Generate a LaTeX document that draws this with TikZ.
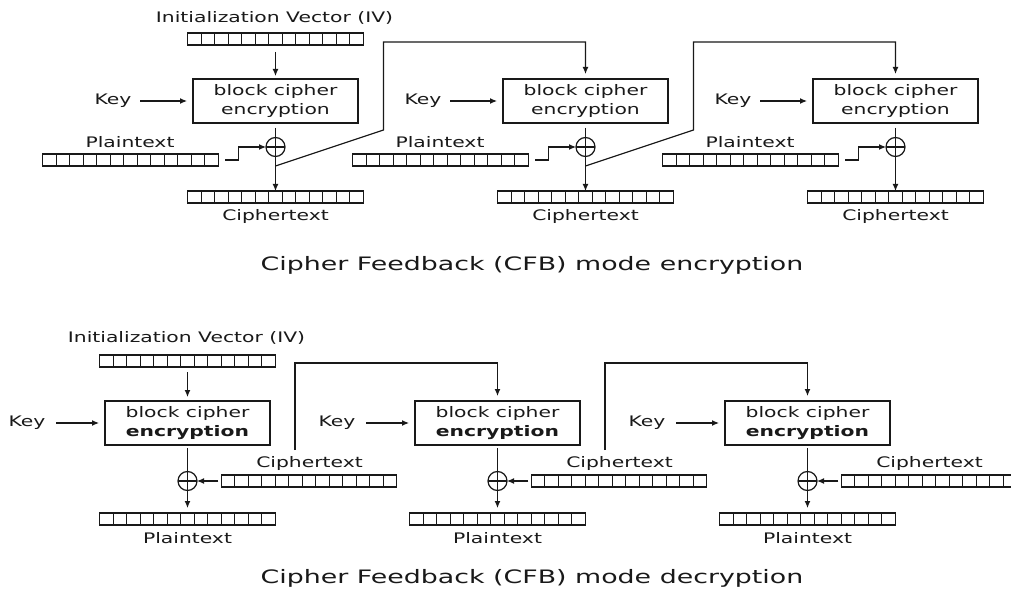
\documentclass[tikz,border=0pt]{standalone}
\usepackage{fontspec}
\setmainfont{DejaVu Sans}[FakeStretch=1.4]
\newfontfamily\titlefont{DejaVu Sans}[FakeStretch=1.45]
\usetikzlibrary{arrows.meta,calc}
\newcommand\regcells[1]{\foreach \i in {1,...,12}{\draw ([xshift=\i*13.5pt]#1.north west) -- ([xshift=\i*13.5pt]#1.south west);}}
\begin{document}
\begin{tikzpicture}[x=1pt,y=-1pt, line width=1.2pt, draw=black!90,
  lab/.style={font=\fontsize{14.5}{19}\selectfont, inner sep=0pt, text=black!90},
  ttl/.style={font=\titlefont\fontsize{18.5}{22}\selectfont, inner sep=0pt, text=black!90},
  cbox/.style={draw, minimum width=165pt, minimum height=44pt, inner sep=0pt, outer sep=0pt, align=center, font=\fontsize{14.5}{19}\selectfont, text=black!90},
  reg/.style={draw, minimum width=175.5pt, minimum height=12pt, inner sep=0pt, outer sep=0pt},
  xorn/.style={draw, circle, minimum size=19pt, inner sep=0pt, outer sep=0pt,
    path picture={\draw (path picture bounding box.west) -- (path picture bounding box.east);
                  \draw (path picture bounding box.north) -- (path picture bounding box.south);}},
  arr/.style={-{Latex[length=7pt,width=6pt]}},
]
\fill[white] (0,0) rectangle (1011,593);
\useasboundingbox (0,0) rectangle (1011,593);

% ---------------- encryption ----------------
\node[lab] (tivl) at (274.5,18) {Initialization Vector (IV)};
\node[reg] (tiv) at (275.5,39) {}; \regcells{tiv}
\foreach \k in {0,1,2} {
  \pgfmathsetmacro\dx{310*\k}
  \node[lab] (tkey\k) at (113+\dx,101) {Key};
  \node[cbox] (tbox\k) at (275.5+\dx,101) {block cipher\\encryption};
  \node[lab] (tptl\k) at (130+\dx,142) {Plaintext};
  \node[reg] (tpt\k) at (130.5+\dx,160) {}; \regcells{tpt\k}
  \node[xorn] (txor\k) at (275.5+\dx,147) {};
  \node[reg] (tct\k) at (275.5+\dx,197) {}; \regcells{tct\k}
  \node[lab] (tctl\k) at (275.5+\dx,217) {Ciphertext};
  \draw[arr] ([xshift=8pt]tkey\k.east) -- ([xshift=-6pt]tbox\k.west);
  \draw[arr] ([yshift=-5pt]tbox\k.south) -- (tct\k.north);
  \draw[arr] ([xshift=7pt]tpt\k.east) -- ++(13,0) |- (txor\k.west);
}
\draw[arr] ([yshift=-7pt]tiv.south) -- ([yshift=3pt]tbox0.north);
\foreach \k in {0,1} {
  \pgfmathsetmacro\dx{310*\k}
  \pgfmathtruncatemacro\kn{\k+1}
  \coordinate (tfb\k) at (275.5+\dx,166);
  \draw[arr] (tfb\k) -- (383.5+\dx,130) -- (383.5+\dx,42) -| ([yshift=5pt]tbox\kn.north);
}
\node[ttl] (ttitle) at (532,265) {Cipher Feedback (CFB) mode encryption};

% ---------------- decryption ----------------
\node[lab] (bivl) at (186.5,338) {Initialization Vector (IV)};
\node[reg] (biv) at (187.5,361) {}; \regcells{biv}
\foreach \k in {0,1,2} {
  \pgfmathsetmacro\dx{310*\k}
  \node[lab] (bkey\k) at (27+\dx,423) {Key};
  \node[cbox] (bbox\k) at (187.5+\dx,423) {block cipher\\\textbf{encryption}};
  \node[xorn] (bxor\k) at (187.5+\dx,481) {};
  \node[lab] (bctl\k) at (309.5+\dx,463) {Ciphertext};
  \node[reg] (bct\k) at (309+\dx,481) {}; \regcells{bct\k}
  \node[reg] (bpt\k) at (187.5+\dx,519) {}; \regcells{bpt\k}
  \node[lab] (bptl\k) at (187.5+\dx,538) {Plaintext};
  \draw[arr] ([xshift=10pt]bkey\k.east) -- ([xshift=-6pt]bbox\k.west);
  \draw[arr, shorten >=5pt] ([yshift=-3pt]bbox\k.south) -- (bpt\k.north);
  \draw[arr] ([xshift=-3pt]bct\k.west) -- (bxor\k.east);
}
\draw[arr] ([yshift=-5pt]biv.south) -- ([yshift=4pt]bbox0.north);
\foreach \k in {0,1} {
  \pgfmathsetmacro\dx{310*\k}
  \pgfmathtruncatemacro\kn{\k+1}
  \coordinate (bfb\k) at (295+\dx,450);
  \draw[arr] (bfb\k) -- (295+\dx,363) -| ([yshift=5pt]bbox\kn.north);
}
\node[ttl] (btitle) at (532,578) {Cipher Feedback (CFB) mode decryption};
\end{tikzpicture}
\end{document}
